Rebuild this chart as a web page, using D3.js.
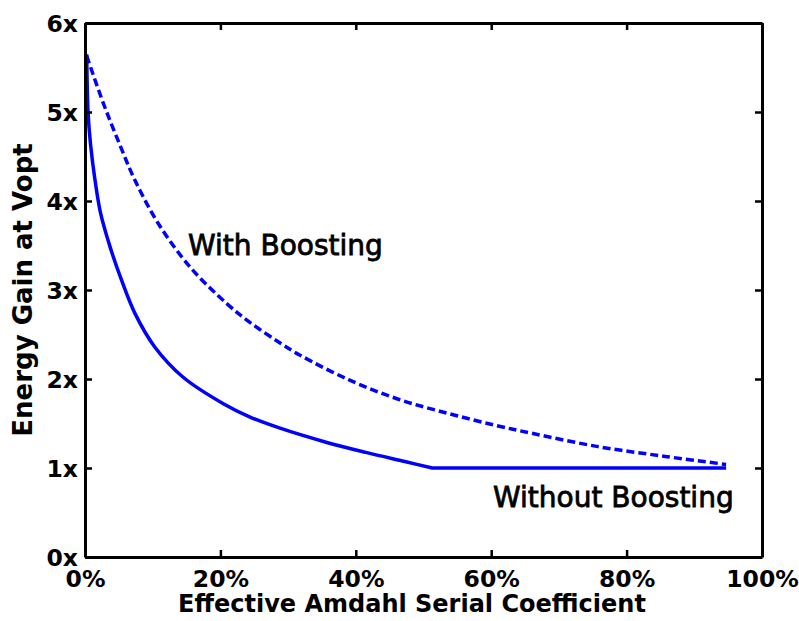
<!DOCTYPE html>
<html>
<head>
<meta charset="utf-8">
<script src="https://cdn.jsdelivr.net/npm/d3@7"></script>
<style>
  html, body { margin: 0; padding: 0; background: #fff; }
  svg { display: block; }
</style>
</head>
<body>
<svg id="chart" width="799" height="621"></svg>
<script>
// ---- Data ----
const xTicks = [0, 20, 40, 60, 80, 100];          // % serial coefficient
const yTicks = [0, 1, 2, 3, 4, 5, 6];             // energy gain (x)

// "Without Boosting" (solid)
const withoutX = [0.25, 0.45, 0.8, 1.47, 2.31, 3.68, 5.4, 7.36, 10.3, 14.5, 20.5, 24.3, 28.7, 35.6, 41.5, 47.4, 51.3, 94.7];
const withoutY = [5.65, 5.0, 4.65, 4.24, 3.86, 3.49, 3.11, 2.74, 2.36, 2.02, 1.72, 1.575, 1.45, 1.29, 1.175, 1.07, 1.0, 1.0];

// "With Boosting" (dashed)
const withX = [0.25, 2.7, 5.15, 7.4, 10.8, 15.5, 20.9, 24.3, 28.7, 31.7, 39.0, 46.4, 53.8, 60.6, 66.0, 75.8, 85.7, 94.7];
const withY = [5.63, 5.10, 4.63, 4.23, 3.75, 3.26, 2.85, 2.64, 2.41, 2.27, 1.99, 1.77, 1.61, 1.48, 1.39, 1.24, 1.13, 1.04];

const xTitle = "Effective Amdahl Serial Coefficient";
const yTitle = "Energy Gain at Vopt";
const labelWith = "With Boosting";
const labelWithout = "Without Boosting";

// ---- Layout ----
const mLeft = 85, mRight = 762, mTop = 23, mBottom = 557;
const svg = d3.select("#chart");
const x = d3.scaleLinear().domain([0, 100]).range([mLeft, mRight]);
const y = d3.scaleLinear().domain([0, 6]).range([mBottom, mTop]);

const FONT = "'DejaVu Sans', Arial, sans-serif";

// Curves
const smooth = d3.line().x(d => x(d[0])).y(d => y(d[1])).curve(d3.curveCatmullRom.alpha(0.5));
const straight = d3.line().x(d => x(d[0])).y(d => y(d[1]));
const withoutData = withoutX.map((v, i) => [v, withoutY[i]]);
const withData = withX.map((v, i) => [v, withY[i]]);

// solid: curved part until it reaches 1x, then a flat straight segment
const kneeIdx = withoutY.indexOf(1.0);
svg.append("path")
  .attr("d", smooth(withoutData.slice(0, kneeIdx + 1)) + straight(withoutData.slice(kneeIdx)).replace(/^M/, "L"))
  .attr("fill", "none")
  .attr("stroke", "#0000ff").attr("stroke-width", 3.5)
  .attr("stroke-linejoin", "round");

svg.append("path").datum(withData)
  .attr("d", smooth).attr("fill", "none")
  .attr("stroke", "#0000ff").attr("stroke-width", 3.5)
  .attr("stroke-dasharray", "8,4");

// Axes
function styleAxis(g, showLabels) {
  g.attr("font-family", null).attr("font-size", null);
  g.select(".domain").attr("stroke", "#000").attr("stroke-width", 3);
  g.selectAll(".tick line").attr("stroke", "#000").attr("stroke-width", 2.5);
  g.selectAll(".tick text")
    .attr("fill", "#000")
    .style("font-family", FONT)
    .style("font-weight", "bold")
    .style("font-size", "23.5px")
    .style("display", showLabels ? null : "none");
}

const gB = svg.append("g").attr("transform", `translate(0,${mBottom})`)
  .call(d3.axisBottom(x).tickValues(xTicks).tickFormat(d => d + "%")
    .tickSizeInner(-7).tickSizeOuter(0).tickPadding(13));
styleAxis(gB, true);

const gT = svg.append("g").attr("transform", `translate(0,${mTop})`)
  .call(d3.axisTop(x).tickValues(xTicks).tickSizeInner(-7).tickSizeOuter(0));
styleAxis(gT, false);

const gL = svg.append("g").attr("transform", `translate(${mLeft},0)`)
  .call(d3.axisLeft(y).tickValues(yTicks).tickFormat(d => d + "x")
    .tickSizeInner(-7).tickSizeOuter(0).tickPadding(7));
styleAxis(gL, true);
gL.selectAll(".tick text").attr("dy", "0.36em");

const gR = svg.append("g").attr("transform", `translate(${mRight},0)`)
  .call(d3.axisRight(y).tickValues(yTicks).tickSizeInner(-7).tickSizeOuter(0));
styleAxis(gR, false);

// Titles
svg.append("text")
  .attr("x", 412).attr("y", 612)
  .attr("text-anchor", "middle")
  .style("font-family", FONT).style("font-weight", "bold").style("font-size", "24px")
  .text(xTitle);

svg.append("text")
  .attr("transform", `translate(32,${(mTop + mBottom) / 2}) rotate(-90)`)
  .attr("text-anchor", "middle")
  .style("font-family", FONT).style("font-weight", "bold").style("font-size", "26px")
  .text(yTitle);

// Annotations
svg.append("text")
  .attr("x", 188).attr("y", 255)
  .attr("stroke", "#000").attr("stroke-width", 0.8)
  .style("font-family", FONT).style("font-size", "28px")
  .text(labelWith);

svg.append("text")
  .attr("x", 493).attr("y", 507)
  .attr("stroke", "#000").attr("stroke-width", 0.8)
  .style("font-family", FONT).style("font-size", "28px")
  .text(labelWithout);
</script>
</body>
</html>
